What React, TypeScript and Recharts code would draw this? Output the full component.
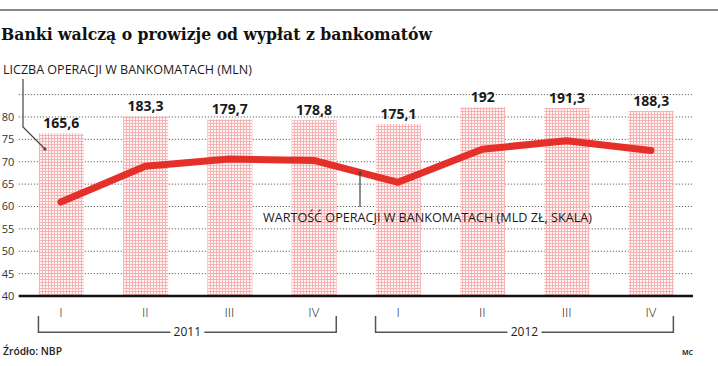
import React from 'react';
import { ComposedChart, Bar, Line, XAxis, YAxis, CartesianGrid, LabelList } from 'recharts';

// ---- data ----
const quarters = ['I', 'II', 'III', 'IV', 'I', 'II', 'III', 'IV'];
const yearOfQuarter = ['2011', '2011', '2011', '2011', '2012', '2012', '2012', '2012'];
const operationsMln = [165.6, 183.3, 179.7, 178.8, 175.1, 192, 191.3, 188.3];
const valueBnPln = [61, 69, 70.6, 70.3, 65.4, 72.8, 74.7, 72.5];
const leftTicks = [40, 45, 50, 55, 60, 65, 70, 75, 80];

const title = 'Banki walczą o prowizje od wypłat z bankomatów';
const barSeriesName = 'LICZBA OPERACJI W BANKOMATACH (MLN)';
const lineSeriesName = 'WARTOŚĆ OPERACJI W BANKOMATACH (MLD ZŁ, SKALA)';
const sourceText = 'Źródło: NBP';
const authorText = 'MC';

const data = quarters.map((q, i) => ({
  key: `${yearOfQuarter[i]}-${q}`,
  quarter: q,
  year: yearOfQuarter[i],
  count: operationsMln[i],
  value: valueBnPln[i],
}));

// ---- layout ----
const W = 718;
const H = 366;
const MARGIN = { top: 94.6, right: 25, left: 0, bottom: 0 };
const Y_AXIS_W = 18.8;
const X_AXIS_H = 70;
const PLOT_W = W - MARGIN.left - MARGIN.right - Y_AXIS_W;
const STEP = PLOT_W / data.length;
const BAR_SIZE = 45;
const SANS = '"Open Sans", "DejaVu Sans", sans-serif';
const RED = '#e5302a';

const QuarterTick = (props: any) => {
  const { x, y, payload } = props;
  const idx = data.findIndex((e) => e.key === payload.value);
  const d = data[idx];
  if (!d) return null;
  const first = idx === 0 || data[idx - 1].year !== d.year;
  let bracket: any = null;
  if (first) {
    const count = data.filter((e) => e.year === d.year).length;
    const left = x - BAR_SIZE / 2;
    const right = x + (count - 1) * STEP + BAR_SIZE / 2;
    const mid = (left + right) / 2;
    const by = y + 36.3;
    bracket = (
      <g>
        <path
          d={`M${left},${y + 20}V${by}H${right}V${y + 20}`}
          fill="none"
          stroke="#555"
          strokeWidth={1.5}
        />
        <rect x={mid - 17} y={by - 6} width={34} height={12} fill="#fff" />
        <text x={mid} y={by + 4} textAnchor="middle" fontSize={12} fontFamily={SANS} fill="#222">
          {d.year}
        </text>
      </g>
    );
  }
  return (
    <g>
      <text x={x} y={y + 20.7} textAnchor="middle" fontSize={13} fontWeight={300} fontFamily={SANS} fill="#222">
        {d.quarter}
      </text>
      {bracket}
    </g>
  );
};

const ValueTick = (props: any) => {
  const { y, payload } = props;
  return (
    <text
      x={MARGIN.left + Y_AXIS_W - 4.5}
      y={y + 4}
      textAnchor="end"
      fontSize={11}
      fontFamily={SANS}
      fill="#333"
    >
      {payload.value}
    </text>
  );
};

export default function App() {
  return (
    <div style={{ position: 'absolute', left: 0, top: 0, width: W, height: H, background: '#fff' }}>
      <ComposedChart width={W} height={H} data={data} margin={MARGIN}>
        <defs>
          <pattern id="mesh" width="3" height="3" patternUnits="userSpaceOnUse">
            <rect width="3" height="3" fill="#fef4f4" />
            <rect width="3" height="1" fill="#f3a6a6" />
            <rect width="1" height="3" fill="#f3a6a6" />
          </pattern>
        </defs>
        <CartesianGrid
          yAxisId="left"
          vertical={false}
          stroke="#444"
          strokeDasharray="1 2"
          strokeWidth={1}
        />
        <XAxis
          dataKey="key"
          height={X_AXIS_H}
          interval={0}
          tickSize={0}
          tickMargin={0}
          tick={<QuarterTick />}
          axisLine={{ stroke: '#111', strokeWidth: 2.5 }}
          tickLine={false}
        />
        <YAxis
          yAxisId="left"
          width={Y_AXIS_W}
          domain={[40, 85]}
          ticks={leftTicks}
          interval={0}
          allowDataOverflow
          axisLine={false}
          tickLine={false}
          tick={<ValueTick />}
        />
        <YAxis yAxisId="bars" hide domain={[0, 205]} />
        <Bar
          yAxisId="bars"
          dataKey="count"
          barSize={BAR_SIZE}
          fill="url(#mesh)"
          fillOpacity={0.85}
          isAnimationActive={false}
        >
          <LabelList
            dataKey="count"
            position="top"
            offset={5}
            formatter={(v: any) => String(v).replace('.', ',')}
            style={{ fontSize: 14, fontWeight: 700, fill: '#1a1a1a', fontFamily: SANS }}
          />
        </Bar>
        <Line
          yAxisId="left"
          dataKey="value"
          type="linear"
          stroke={RED}
          strokeWidth={7}
          strokeLinecap="round"
          strokeLinejoin="round"
          dot={false}
          activeDot={false}
          isAnimationActive={false}
        />
      </ComposedChart>
      <svg
        width={W}
        height={H}
        style={{ position: 'absolute', left: 0, top: 0, pointerEvents: 'none' }}
      >
        <line x1={0} x2={W} y1={10} y2={10} stroke="#8a8a8a" strokeWidth={2} />
        <text
          x={1}
          y={40}
          fontFamily='"DejaVu Serif", serif'
          fontWeight={700}
          fontSize={17}
          fill="#111"
          textLength={431}
          lengthAdjust="spacingAndGlyphs"
        >
          {title}
        </text>
        <text x={3} y={73.5} fontFamily={SANS} fontSize={12} fill="#1a1a1a" textLength={249} lengthAdjust="spacingAndGlyphs">
          {barSeriesName}
        </text>
        <path d="M23,79V127L45,149" fill="none" stroke="#444" strokeWidth={1.2} />
        <circle cx={45} cy={149} r={1.6} fill="#444" />
        <path d="M360,173V207" fill="none" stroke="#444" strokeWidth={1.2} />
        <circle cx={360} cy={173} r={1.6} fill="#444" />
        <text x={263} y={221.5} fontFamily={SANS} fontSize={12.5} fill="#1a1a1a" textLength={329} lengthAdjust="spacingAndGlyphs">
          {lineSeriesName}
        </text>
        <text x={3} y={355} fontFamily={SANS} fontSize={10.5} fontWeight={600} fill="#222" textLength={59} lengthAdjust="spacingAndGlyphs">
          {sourceText}
        </text>
        <text x={682} y={355} fontFamily={SANS} fontSize={7} fontWeight={700} fill="#333">
          {authorText}
        </text>
      </svg>
    </div>
  );
}
